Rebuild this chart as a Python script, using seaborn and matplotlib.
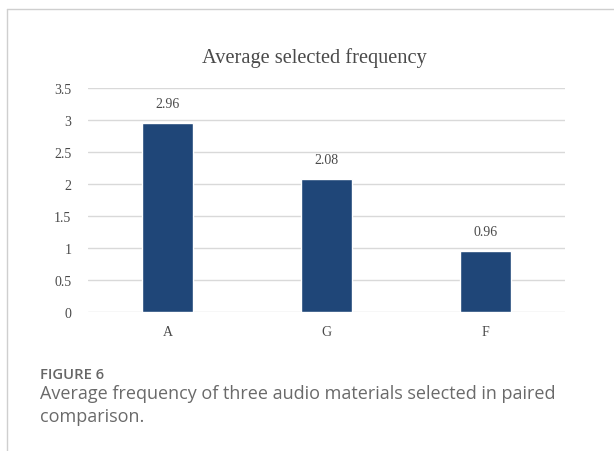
import matplotlib
matplotlib.use("Agg")
import matplotlib.pyplot as plt
from matplotlib.lines import Line2D
import seaborn as sns
import pandas as pd

# Average number of times each audio material was chosen
materials = ["A", "G", "F"]
avg_selected = [2.96, 2.08, 0.96]
y_ticks = [0, 0.5, 1, 1.5, 2, 2.5, 3, 3.5]
y_tick_labels = ["0", "0.5", "1", "1.5", "2", "2.5", "3", "3.5"]

df = pd.DataFrame({"material": materials, "value": avg_selected})

sns.set_theme(style="white")
plt.rcParams["font.family"] = ["Liberation Serif", "DejaVu Serif"]

fig = plt.figure(figsize=(6.14, 4.52), dpi=100)
ax = fig.add_axes([88 / 614, 1 - 313 / 452, 477 / 614, 224 / 452])

bar_color = "#1F4678"
sns.barplot(data=df, x="material", y="value", order=materials,
            color=bar_color, saturation=1, width=0.315, ax=ax, zorder=3)

ax.set_xlim(-0.5, 2.5)
ax.set_ylim(0, 3.5)
ax.set_yticks(y_ticks)
ax.set_yticklabels(y_tick_labels)
ax.yaxis.grid(True, color="#d9d9d9", linewidth=1)
ax.set_axisbelow(True)
for s in ax.spines.values():
    s.set_visible(False)
ax.set_xlabel("")
ax.set_ylabel("")
ax.tick_params(axis="y", length=0, pad=12, labelsize=10, labelcolor="#4a4a4a")
ax.tick_params(axis="x", length=0, pad=9, labelsize=10, labelcolor="#4a4a4a")

for cont in ax.containers:
    ax.bar_label(cont, labels=[f"{v:.2f}" for v in avg_selected], padding=9,
                 fontsize=10, color="#4a4a4a")

fig.text(314 / 614, 1 - 58 / 452, "Average selected frequency",
         ha="center", va="center", fontsize=14.7, color="#4a4a4a")

# Page frame around the figure panel
fig.add_artist(Line2D([7 / 614, 7 / 614], [0, 1 - 10 / 452],
                      transform=fig.transFigure, color="#cfcfcf", linewidth=1))
fig.add_artist(Line2D([7 / 614, 1], [1 - 10 / 452, 1 - 10 / 452],
                      transform=fig.transFigure, color="#cfcfcf", linewidth=1))

sans = ["Open Sans", "DejaVu Sans"]
fig.text(40 / 614, 1 - 375 / 452, "FIGURE 6", ha="left", va="center",
         fontsize=10.7, color="#666666", family=sans, fontweight="semibold")
fig.text(40 / 614, 1 - 394 / 452,
         "Average frequency of three audio materials selected in paired",
         ha="left", va="center", fontsize=13, color="#6a6a6a", family=sans)
fig.text(40 / 614, 1 - 417 / 452, "comparison.", ha="left", va="center",
         fontsize=13, color="#6a6a6a", family=sans)

fig.savefig("out.png", dpi=100)
